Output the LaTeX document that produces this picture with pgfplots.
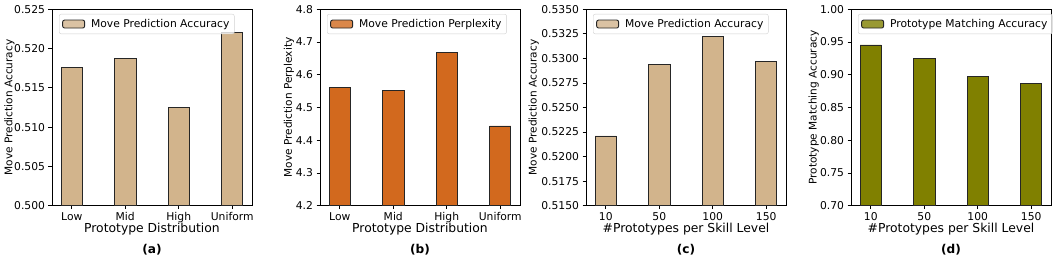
\documentclass[border=0pt]{standalone}
\usepackage{pgfplots}
\pgfplotsset{compat=1.18}
\usepackage{fontspec}
\setmainfont{DejaVu Sans}
\definecolor{ctan}{RGB}{210,180,140}
\definecolor{cchoc}{RGB}{210,105,30}
\definecolor{colive}{RGB}{128,128,0}
\pgfplotsset{
  panel/.style={
    scale only axis,
    width=200bp, height=196.4bp,
    anchor=south west,
    axis line style={black, line width=0.8bp},
    xtick pos=bottom, ytick pos=left,
    tick align=outside,
    major tick length=3.5bp,
    tick style={black, line width=0.8bp},
    xmin=-0.37, xmax=3.37,
    xtick={0,1,2,3},
    ticklabel style={font=\fontsize{10.8}{12}\selectfont},
    /pgf/number format/assume math mode=true,
    scaled y ticks=false,
    yticklabel style={/pgf/number format/fixed, /pgf/number format/fixed zerofill},
    xlabel style={font=\fontsize{12.4}{14}\selectfont, at={(axis description cs:0.5,0)}, anchor=center, yshift=-23.8bp},
    ylabel style={font=\fontsize{10.6}{12}\selectfont, anchor=center},
    legend style={at={(0,1)}, anchor=north west, xshift=7bp, yshift=-4.7bp,
      draw=black!18, rounded corners=2bp, fill=white, fill opacity=0.8, text opacity=1,
      font=\fontsize{10.8}{12}\selectfont, inner xsep=3bp, inner ysep=3bp,
      column sep=4bp, legend cell align=left},
    legend image code/.code={\draw[#1] (0bp,-4bp) rectangle (22bp,4bp);},
  },
  barst/.style={ybar, bar width=0.4, draw=black!85, line width=0.9bp},
}
\begin{document}
\begin{tikzpicture}
\useasboundingbox (0,0) rectangle (1058bp,262bp);
% (a)
\begin{axis}[panel, at={(52bp,56.3bp)},
  ymin=0.5, ymax=0.525, ytick={0.500,0.505,0.510,0.515,0.520,0.525},
  yticklabel style={/pgf/number format/precision=3},
  xticklabels={Low,Mid,High,Uniform},
  xlabel={Prototype Distribution},
  ylabel={Move Prediction Accuracy},
  ylabel style={at={(axis description cs:-0.213,0.5)}},
]
\addplot[barst, fill=ctan] coordinates {(0,0.5176) (1,0.5187) (2,0.5125) (3,0.5221)};
\addlegendentry{Move Prediction Accuracy}
\end{axis}
\node[font=\fontsize{12.2}{14}\selectfont\bfseries] at (152bp,12bp) {(a)};
% (b)
\begin{axis}[panel, at={(320bp,56.3bp)},
  ymin=4.2, ymax=4.8, ytick={4.2,4.3,4.4,4.5,4.6,4.7,4.8},
  yticklabel style={/pgf/number format/precision=1},
  xticklabels={Low,Mid,High,Uniform},
  xlabel={Prototype Distribution},
  ylabel={Move Prediction Perplexity},
  ylabel style={at={(axis description cs:-0.155,0.5)}},
]
\addplot[barst, fill=cchoc] coordinates {(0,4.5616) (1,4.5525) (2,4.6686) (3,4.4435)};
\addlegendentry{Move Prediction Perplexity}
\end{axis}
\node[font=\fontsize{12.2}{14}\selectfont\bfseries] at (420bp,12bp) {(b)};
% (c)
\begin{axis}[panel, at={(586bp,56.3bp)},
  ymin=0.515, ymax=0.535, ytick={0.515,0.5175,0.52,0.5225,0.525,0.5275,0.53,0.5325,0.535},
  yticklabel style={/pgf/number format/precision=4},
  xticklabels={10,50,100,150},
  xlabel={\#Prototypes per Skill Level},
  ylabel={Move Prediction Accuracy},
  ylabel style={at={(axis description cs:-0.262,0.5)}},
]
\addplot[barst, fill=ctan] coordinates {(0,0.5221) (1,0.5294) (2,0.5322) (3,0.5297)};
\addlegendentry{Move Prediction Accuracy}
\end{axis}
\node[font=\fontsize{12.2}{14}\selectfont\bfseries] at (686bp,12bp) {(c)};
% (d)
\begin{axis}[panel, at={(851bp,56.3bp)},
  ymin=0.7, ymax=1.0, ytick={0.70,0.75,0.80,0.85,0.90,0.95,1.00},
  yticklabel style={/pgf/number format/precision=2},
  xticklabels={10,50,100,150},
  xlabel={\#Prototypes per Skill Level},
  ylabel={Prototype Matching Accuracy},
  ylabel style={at={(axis description cs:-0.186,0.5)}},
]
\addplot[barst, fill=colive] coordinates {(0,0.9455) (1,0.9256) (2,0.898) (3,0.887)};
\addlegendentry{Prototype Matching Accuracy}
\end{axis}
\node[font=\fontsize{12.2}{14}\selectfont\bfseries] at (951bp,12bp) {(d)};
\end{tikzpicture}
\end{document}
